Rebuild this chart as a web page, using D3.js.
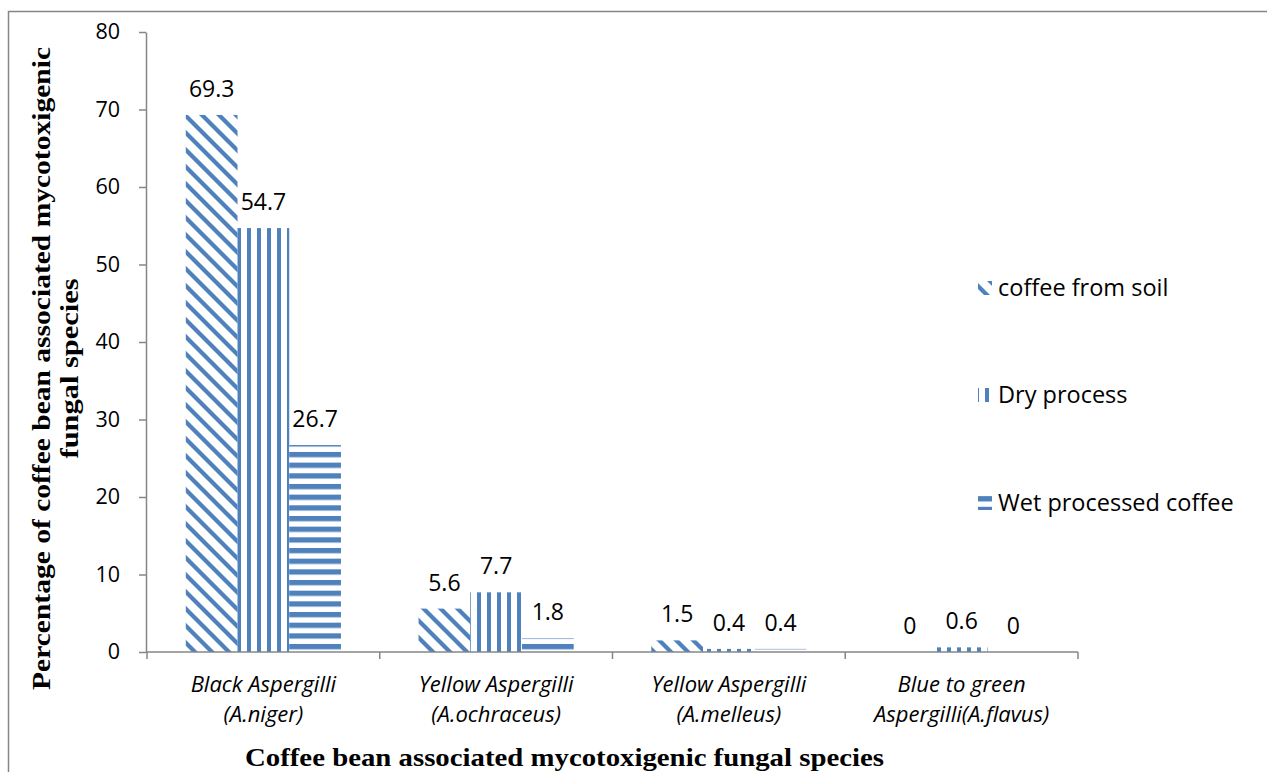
<!DOCTYPE html>
<html>
<head>
<meta charset="utf-8">
<script src="https://cdn.jsdelivr.net/npm/d3@7/dist/d3.min.js"></script>
<style>
  html, body { margin: 0; padding: 0; background: #fff; }
  svg { display: block; }
</style>
</head>
<body>
<svg id="chart" width="1267" height="772"></svg>
<script>
// Fungal species groups (two-line labels)
const categories = [
  ["Black Aspergilli", "(A.niger)"],
  ["Yellow Aspergilli", "(A.ochraceus)"],
  ["Yellow Aspergilli", "(A.melleus)"],
  ["Blue to green", "Aspergilli(A.flavus)"]
];
const seriesNames = ["coffee from soil", "Dry process", "Wet processed coffee"];
const soilValues = [69.3, 5.6, 1.5, 0];
const dryValues = [54.7, 7.7, 0.4, 0.6];
const wetValues = [26.7, 1.8, 0.4, 0];
const yTicks = [0, 10, 20, 30, 40, 50, 60, 70, 80];
const xTitle = "Coffee bean associated mycotoxigenic fungal species";
const yTitle = ["Percentage of coffee bean associated mycotoxigenic", "fungal species"];

const seriesValues = [soilValues, dryValues, wetValues];
const rows = categories.map((c, i) => ({
  i, label: c,
  vals: seriesNames.map((s, k) => ({ k, v: seriesValues[k][i] }))
}));

const BLUE = "#4f81bd";
const AXIS = "#868686";
const sans = "'Open Sans', Lato, sans-serif";
const serif = "'Liberation Serif', 'Times New Roman', serif";

const svg = d3.select("#chart");

// Fill patterns: downward diagonal, vertical and horizontal stripes
const defs = svg.append("defs");
const pDiag = defs.append("pattern").attr("id", "pat0")
  .attr("patternUnits", "userSpaceOnUse").attr("x", 2).attr("y", 0)
  .attr("width", 17).attr("height", 17);
pDiag.append("rect").attr("width", 17).attr("height", 17).attr("fill", "#fff");
[-17, 0, 17].forEach(dx => {
  pDiag.append("line").attr("x1", dx - 2).attr("y1", -2).attr("x2", dx + 19).attr("y2", 19)
    .attr("stroke", BLUE).attr("stroke-width", 4.2);
});
const pVert = defs.append("pattern").attr("id", "pat1")
  .attr("patternUnits", "userSpaceOnUse").attr("x", 7).attr("y", 0)
  .attr("width", 10).attr("height", 10);
pVert.append("rect").attr("width", 10).attr("height", 10).attr("fill", "#fff");
pVert.append("rect").attr("x", 0).attr("width", 4).attr("height", 10).attr("fill", BLUE);
const pHorz = defs.append("pattern").attr("id", "pat2")
  .attr("patternUnits", "userSpaceOnUse").attr("x", 0).attr("y", 3.8)
  .attr("width", 10).attr("height", 10.67);
pHorz.append("rect").attr("width", 10).attr("height", 10.67).attr("fill", "#fff");
pHorz.append("rect").attr("y", 0).attr("width", 10).attr("height", 5.3).attr("fill", BLUE);

// Outer frame
svg.append("path")
  .attr("d", "M8.5,772 V11.5 H1267")
  .attr("fill", "none").attr("stroke", AXIS).attr("stroke-width", 1.5);

// Scales
const x = d3.scaleBand().domain(d3.range(categories.length)).range([147, 1078]).padding(0);
const xs = d3.scaleBand().domain(d3.range(seriesNames.length))
  .range([0, x.bandwidth()]).paddingInner(0).paddingOuter(0.75);
const y = d3.scaleLinear().domain([0, 80]).range([652, 32]);

// Y axis
const yAxis = svg.append("g").attr("transform", "translate(146,0)")
  .call(d3.axisLeft(y).tickValues(yTicks).tickSize(7).tickPadding(19).tickSizeOuter(0));
yAxis.select(".domain").attr("stroke", AXIS).attr("stroke-width", 1.5);
yAxis.selectAll(".tick line").attr("stroke", AXIS).attr("stroke-width", 1.5);
yAxis.selectAll(".tick text").attr("font-family", sans).attr("font-size", 21.5).attr("fill", "#000");

// Bars
const groups = svg.append("g").selectAll("g").data(rows).join("g");
groups.selectAll("rect").data(d => d.vals.map(v => ({ ...v, i: d.i }))).join("rect")
  .attr("x", d => x(d.i) + xs(d.k))
  .attr("width", xs.bandwidth())
  .attr("y", d => y(d.v))
  .attr("height", d => y(0) - y(d.v))
  .attr("fill", d => `url(#pat${d.k})`);

// Value labels
groups.selectAll("text").data(d => d.vals.map(v => ({ ...v, i: d.i }))).join("text")
  .attr("x", d => x(d.i) + xs(d.k) + xs.bandwidth() / 2)
  .attr("y", d => y(d.v) - 18)
  .attr("text-anchor", "middle")
  .attr("font-family", sans).attr("font-size", 23).attr("fill", "#000")
  .text(d => d.v);

// X axis line and category separators
const xAxis = svg.append("g");
xAxis.append("line").attr("x1", 146).attr("x2", x.range()[1])
  .attr("y1", y(0)).attr("y2", y(0)).attr("stroke", AXIS).attr("stroke-width", 1.5);
const bounds = categories.map((c, i) => x(i)).concat([x.range()[1]]);
xAxis.selectAll("line.sep").data(bounds).join("line").attr("class", "sep")
  .attr("x1", d => d).attr("x2", d => d)
  .attr("y1", y(0)).attr("y2", y(0) + 7)
  .attr("stroke", AXIS).attr("stroke-width", 1.5);
const catLabels = xAxis.selectAll("text.cat").data(rows).join("text").attr("class", "cat")
  .attr("text-anchor", "middle")
  .attr("font-family", sans).attr("font-style", "italic").attr("font-size", 22).attr("fill", "#000");
catLabels.append("tspan").attr("x", d => x(d.i) + x.bandwidth() / 2).attr("y", 692)
  .text(d => d.label[0]);
catLabels.append("tspan").attr("x", d => x(d.i) + x.bandwidth() / 2).attr("y", 722.2)
  .text(d => d.label[1]);

// Axis titles
svg.append("text")
  .attr("x", 564.5).attr("y", 766)
  .attr("text-anchor", "middle")
  .attr("font-family", serif).attr("font-weight", "bold").attr("font-size", 25)
  .attr("textLength", 639).attr("lengthAdjust", "spacingAndGlyphs")
  .text(xTitle);
const yTitleLen = [643, 180];
const yt = svg.append("text")
  .attr("transform", "translate(0,368.5) rotate(-90)")
  .attr("text-anchor", "middle")
  .attr("font-family", serif).attr("font-weight", "bold").attr("font-size", 25);
yt.selectAll("tspan").data(yTitle).join("tspan")
  .attr("x", 0).attr("y", (d, i) => 50 + i * 28)
  .attr("textLength", (d, i) => yTitleLen[i]).attr("lengthAdjust", "spacingAndGlyphs")
  .text(d => d);

// Legend
const legendY = [288, 395, 503];
const legend = svg.append("g").selectAll("g").data(seriesNames).join("g")
  .attr("transform", (d, i) => `translate(978,${legendY[i]})`);
legend.append("rect").attr("x", 0).attr("y", -7).attr("width", 14).attr("height", 14)
  .attr("fill", (d, i) => `url(#pat${i})`);
legend.append("text").attr("x", 20).attr("y", 0).attr("dy", "0.35em")
  .attr("font-family", sans).attr("font-size", 23.5).attr("fill", "#000")
  .text(d => d);
</script>
</body>
</html>
